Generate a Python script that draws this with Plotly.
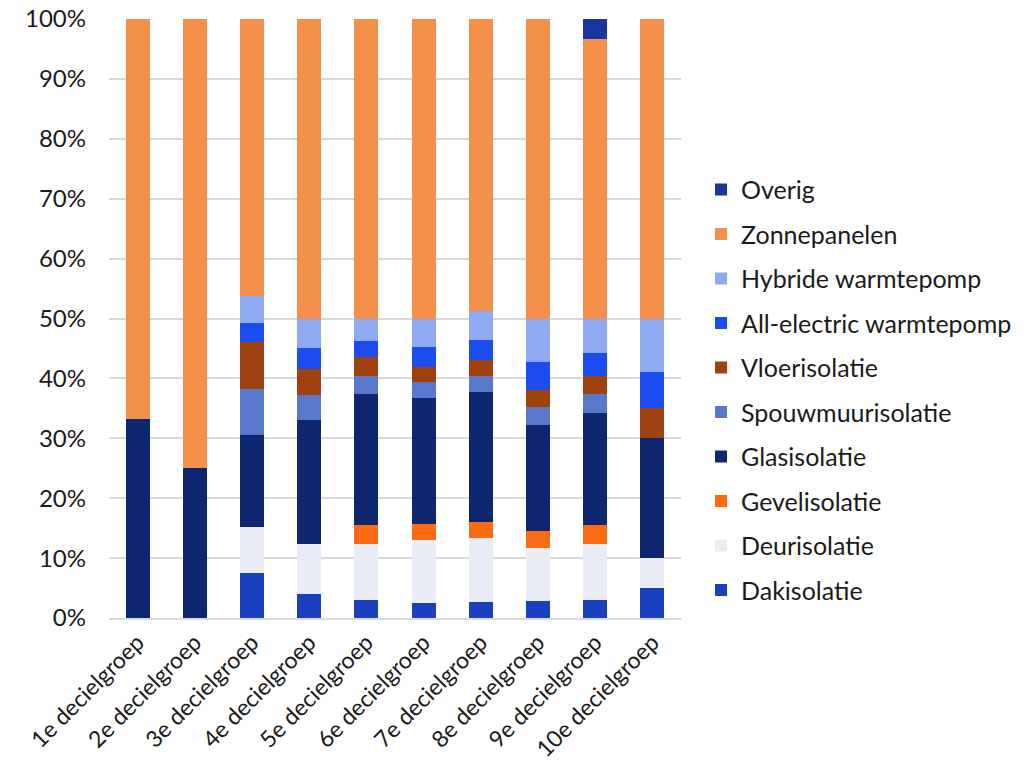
import plotly.graph_objects as go

categories = ["1e decielgroep", "2e decielgroep", "3e decielgroep", "4e decielgroep",
              "5e decielgroep", "6e decielgroep", "7e decielgroep", "8e decielgroep",
              "9e decielgroep", "10e decielgroep"]

dakisolatie = [0, 0, 7.5, 4.0, 3.0, 2.5, 2.7, 2.8, 3.0, 5.0]
deurisolatie = [0, 0, 7.7, 8.3, 9.3, 10.5, 10.7, 8.9, 9.3, 5.0]
gevelisolatie = [0, 0, 0, 0, 3.2, 2.7, 2.6, 2.8, 3.2, 0]
glasisolatie = [33.3, 25.0, 15.4, 20.8, 21.9, 21.0, 21.7, 17.7, 18.7, 20.0]
spouwmuurisolatie = [0, 0, 7.7, 4.2, 3.0, 2.7, 2.7, 3.0, 3.2, 0]
vloerisolatie = [0, 0, 7.7, 4.2, 3.2, 2.5, 2.7, 2.9, 3.0, 5.0]
all_electric = [0, 0, 3.3, 3.5, 2.6, 3.3, 3.3, 4.6, 3.8, 6.0]
hybride = [0, 0, 4.4, 4.9, 3.8, 4.8, 4.9, 7.3, 5.8, 9.0]
zonnepanelen = [66.7, 75.0, 46.3, 50.1, 50.0, 50.0, 48.7, 50.0, 46.7, 50.0]
overig = [0, 0, 0, 0, 0, 0, 0, 0, 3.3, 0]

series = [
    ("Dakisolatie", dakisolatie, "#1a40c0"),
    ("Deurisolatie", deurisolatie, "#eaedf6"),
    ("Gevelisolatie", gevelisolatie, "#fb6c12"),
    ("Glasisolatie", glasisolatie, "#0e2570"),
    ("Spouwmuurisolatie", spouwmuurisolatie, "#5878cc"),
    ("Vloerisolatie", vloerisolatie, "#a0420f"),
    ("All-electric warmtepomp", all_electric, "#1a4cf0"),
    ("Hybride warmtepomp", hybride, "#8faaf2"),
    ("Zonnepanelen", zonnepanelen, "#f4904a"),
    ("Overig", overig, "#1a34a0"),
]

FONT = "Lato"

fig = go.Figure()
n = len(series)
for i, (name, vals, color) in enumerate(series):
    fig.add_trace(go.Bar(
        x=categories, y=vals, name=name,
        marker=dict(color=color, line=dict(width=0)),
        legendgroup=name,
        legendrank=n - i,
    ))

fig.update_layout(
    barmode="stack",
    bargap=0.58,
    width=1033, height=764,
    margin=dict(l=109, r=352, t=19, b=146),
    plot_bgcolor="white", paper_bgcolor="white",
    font=dict(family=FONT, size=25, color="#1a1a1a"),
    showlegend=True,
    legend=dict(
        traceorder="grouped",
        tracegroupgap=9,
        x=1.035, xanchor="left",
        y=0.381, yanchor="middle",
        font=dict(family=FONT, size=25, color="#1a1a1a"),
    ),
    xaxis=dict(
        tickangle=-45,
        showgrid=False,
        showline=True, linecolor="#d9d9d9", linewidth=2,
        ticks="",
        automargin=False,
        tickfont=dict(family=FONT, size=23, color="#1a1a1a"),
    ),
    yaxis=dict(
        range=[0, 100], dtick=10, ticksuffix="%",
        showgrid=True, gridcolor="#d9d9d9", gridwidth=2,
        zeroline=False, showline=False, ticks="",
        ticklabelstandoff=22,
        automargin=False,
        tickfont=dict(family=FONT, size=24, color="#1a1a1a"),
    ),
)

fig.write_html("out.html", config={"displayModeBar": False},
               post_script="document.body.style.margin='0';")
